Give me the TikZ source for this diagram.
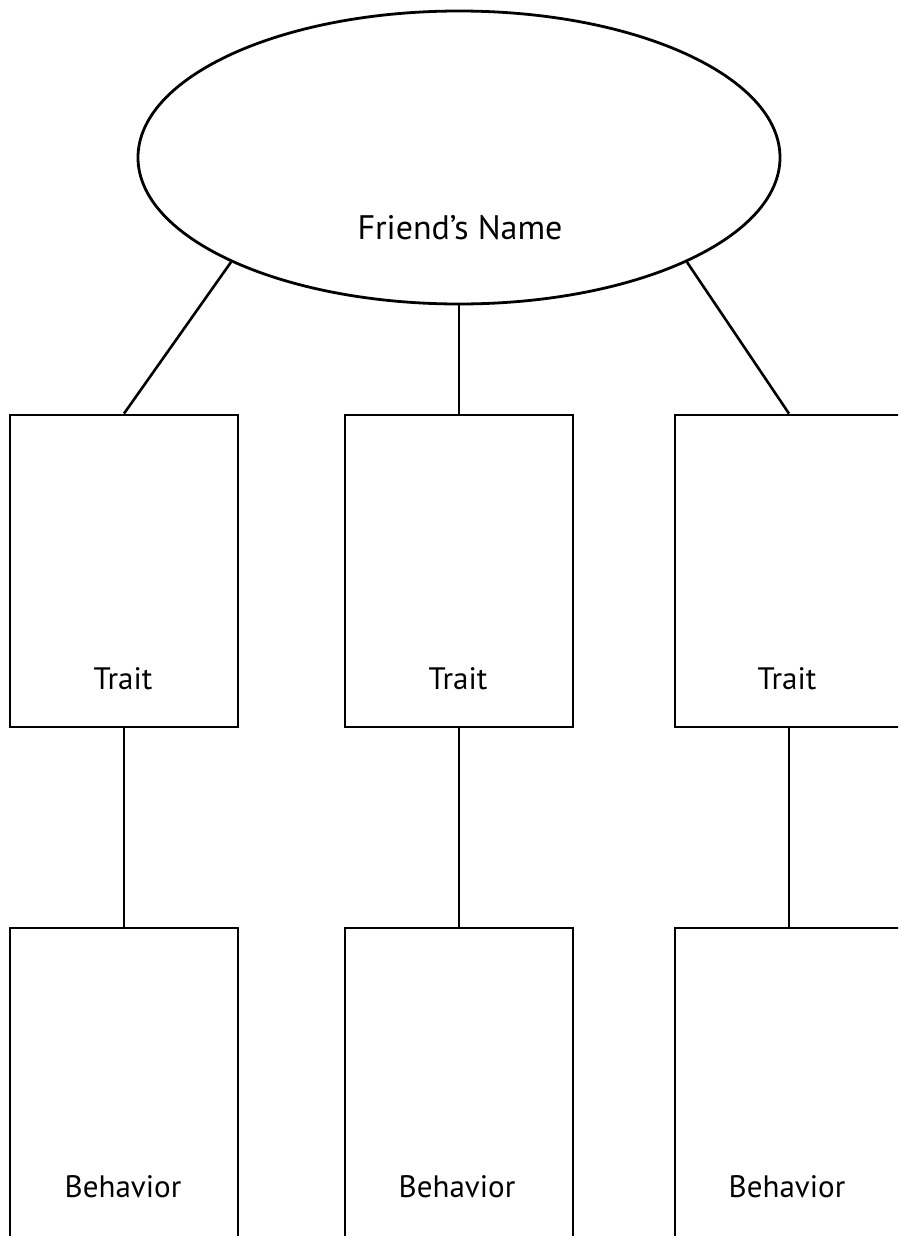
\documentclass[tikz,border=0pt]{standalone}
\usepackage{fontspec}
\setmainfont{PT Sans}
\usetikzlibrary{shapes.geometric}

\tikzset{
  oval/.style={ellipse,draw,line width=2.8pt,minimum width=642pt,minimum height=293pt,inner sep=0pt},
  card/.style={rectangle,draw,line width=2.8pt,minimum width=228pt,minimum height=312pt,inner sep=0pt},
  word/.style={anchor=base,inner sep=0pt,font=\fontsize{31}{37}\selectfont},
  link/.style={line width=2.6pt}
}

\begin{document}
\begin{tikzpicture}[x=1pt,y=-1pt]
  \useasboundingbox (0,0) rectangle (898,1236);
  \clip (0,0) rectangle (898,1236);
  % top
  \node[oval] (friend) at (459,157.5) {};
  \node[word,font=\fontsize{34}{40}\selectfont] (friendtxt) at (460,239) {Friend's Name};
  % traits
  \node[card] (t1) at (124,571) {};
  \node[card] (t2) at (459,571) {};
  \node[card] (t3) at (789,571) {};
  \node[word] (t1txt) at (123,689) {Trait};
  \node[word] (t2txt) at (458,689) {Trait};
  \node[word] (t3txt) at (787,689) {Trait};
  % behaviors
  \node[card] (b1) at (124,1084) {};
  \node[card] (b2) at (459,1084) {};
  \node[card] (b3) at (789,1084) {};
  \node[word] (b1txt) at (123,1197) {Behavior};
  \node[word] (b2txt) at (457,1197) {Behavior};
  \node[word] (b3txt) at (787,1197) {Behavior};
  % links
  \draw[link] (friend.south west) -- (t1.north);
  \draw[link] (friend.south) -- (friend.south |- t2.north);
  \draw[link] (friend.south east) -- (t3.north);
  \draw[link] (t1.south) -- (b1.north);
  \draw[link] (t2.south) -- (b2.north);
  \draw[link] (t3.south) -- (b3.north);
\end{tikzpicture}
\end{document}
